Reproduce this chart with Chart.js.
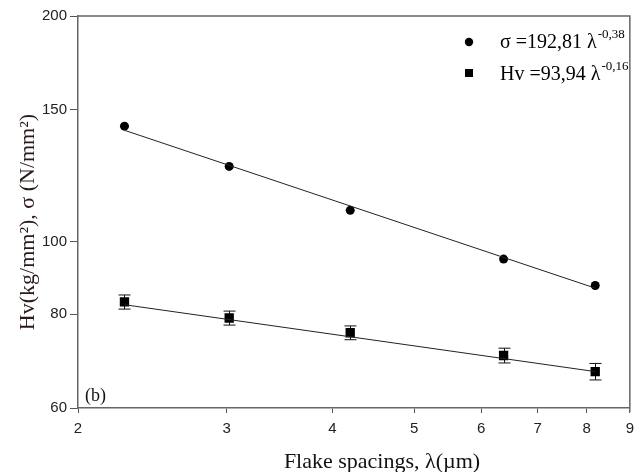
<!DOCTYPE html>
<html>
<head>
<meta charset="utf-8">
<script src="https://cdn.jsdelivr.net/npm/chart.js@4"></script>
<style>
  html, body { margin: 0; padding: 0; background: #fff; }
  #wrap { width: 641px; height: 472px; }
</style>
</head>
<body>
<div id="wrap"><canvas id="chart" width="641" height="472"></canvas></div>
<script>
// values
const spacing = [2.27, 3.02, 4.2, 6.38, 8.19];
const sigma = [142.6, 126.0, 110.1, 94.8, 87.4];
const hardness = [83.1, 79.1, 75.6, 70.5, 67.1];
const hardnessErr = [1.8, 1.7, 1.6, 1.6, 1.7];
const fitX = [2.27, 8.19];
const sigmaFit = [140.8, 86.7];
const hardnessFit = [82.4, 67.1];
const xTicks = [2, 3, 4, 5, 6, 7, 8, 9];
const yTicks = [60, 80, 100, 150, 200];

const serif = '"Liberation Serif", "Times New Roman", serif';
const sans = '"Liberation Sans", Arial, sans-serif';

const pts = (xs, ys) => xs.map((x, i) => ({ x: x, y: ys[i] }));

// error bars, frame, titles and the legend
const extras = {
    id: 'extras',
    beforeDatasetsDraw(chart) {
        const { ctx, scales } = chart;
        const xs = scales.x, ys = scales.y;
        ctx.save();
        ctx.strokeStyle = '#111';
        ctx.lineWidth = 1;
        spacing.forEach((x, i) => {
            const px = Math.round(xs.getPixelForValue(x)) + 0.5;
            const top = ys.getPixelForValue(hardness[i] + hardnessErr[i]);
            const bot = ys.getPixelForValue(hardness[i] - hardnessErr[i]);
            ctx.beginPath();
            ctx.moveTo(px, top); ctx.lineTo(px, bot);
            ctx.moveTo(px - 6, top); ctx.lineTo(px + 6, top);
            ctx.moveTo(px - 6, bot); ctx.lineTo(px + 6, bot);
            ctx.stroke();
        });
        ctx.restore();
    },
    afterDraw(chart) {
        const { ctx, chartArea: a } = chart;
        ctx.save();
        // top and right frame
        ctx.strokeStyle = '#666';
        ctx.lineWidth = 1.5;
        ctx.beginPath();
        ctx.moveTo(a.left, a.top);
        ctx.lineTo(a.right, a.top);
        ctx.lineTo(a.right, a.bottom + 4);
        ctx.stroke();

        ctx.fillStyle = '#111';
        // x title
        ctx.font = '22px ' + serif;
        ctx.textAlign = 'center';
        ctx.textBaseline = 'alphabetic';
        ctx.fillText('Flake spacings, \u03bb(\u00b5m)', 382, 468);

        // y title
        ctx.save();
        ctx.translate(34, 222);
        ctx.rotate(-Math.PI / 2);
        ctx.fillStyle = '#2a1a1a';
        ctx.fillText('Hv(kg/mm\u00b2), \u03c3 (N/mm\u00b2)', 0, 0);
        ctx.restore();

        // panel label
        ctx.font = '18px ' + serif;
        ctx.textAlign = 'left';
        ctx.fillText('(b)', 85, 401);

        // legend
        const items = [
            { style: 'circle', text: '\u03c3 =192,81 \u03bb', sup: '-0,38', y: 42, base: 48 },
            { style: 'rect', text: 'Hv =93,94 \u03bb', sup: '-0,16', y: 73, base: 80 }
        ];
        items.forEach(it => {
            ctx.fillStyle = '#000';
            ctx.beginPath();
            if (it.style === 'circle') ctx.arc(469, it.y, 4.2, 0, Math.PI * 2);
            else ctx.rect(465, it.y - 4, 8, 8);
            ctx.fill();
            ctx.font = '20px ' + serif;
            ctx.textAlign = 'left';
            ctx.fillText(it.text, 500, it.base);
            const w = ctx.measureText(it.text).width;
            ctx.font = '13px ' + serif;
            ctx.fillText(it.sup, 500 + w + 1, it.base - 10);
        });
        ctx.restore();
    }
};

new Chart(document.getElementById('chart'), {
    type: 'scatter',
    data: {
        datasets: [
            {
                label: 'sigma fit',
                data: pts(fitX, sigmaFit),
                showLine: true,
                borderColor: '#222',
                borderWidth: 1,
                pointRadius: 0
            },
            {
                label: 'Hv fit',
                data: pts(fitX, hardnessFit),
                showLine: true,
                borderColor: '#222',
                borderWidth: 1,
                pointRadius: 0
            },
            {
                label: 'sigma',
                data: pts(spacing, sigma),
                pointStyle: 'circle',
                pointRadius: 4.5,
                backgroundColor: '#000',
                borderColor: '#000',
                borderWidth: 0
            },
            {
                label: 'Hv',
                data: pts(spacing, hardness),
                pointStyle: 'rect',
                pointRadius: 6.6,
                backgroundColor: '#000',
                borderColor: '#000',
                borderWidth: 0
            }
        ]
    },
    options: {
        responsive: false,
        animation: false,
        layout: { padding: { left: 0, top: 16, right: 11, bottom: 0 } },
        plugins: {
            legend: { display: false },
            tooltip: { enabled: false }
        },
        scales: {
            x: {
                type: 'logarithmic',
                min: 2,
                max: 9,
                afterBuildTicks: s => { s.ticks = xTicks.map(v => ({ value: v })); },
                afterFit: s => { s.height = 64; },
                ticks: {
                    callback: v => String(v),
                    autoSkip: false,
                    maxRotation: 0,
                    padding: 7,
                    color: '#222',
                    font: { family: sans, size: 15 }
                },
                grid: { drawOnChartArea: false, drawTicks: true, tickLength: 5, color: '#555' },
                border: { color: '#666', width: 1.5 }
            },
            y: {
                type: 'logarithmic',
                min: 60,
                max: 200,
                afterBuildTicks: s => { s.ticks = yTicks.map(v => ({ value: v })); },
                afterFit: s => { s.width = 78; },
                ticks: {
                    callback: v => String(v),
                    autoSkip: false,
                    padding: 3,
                    color: '#222',
                    font: { family: sans, size: 15 }
                },
                grid: { drawOnChartArea: false, drawTicks: true, tickLength: 8, color: '#555' },
                border: { color: '#666', width: 1.5 }
            }
        }
    },
    plugins: [extras]
});
</script>
</body>
</html>
